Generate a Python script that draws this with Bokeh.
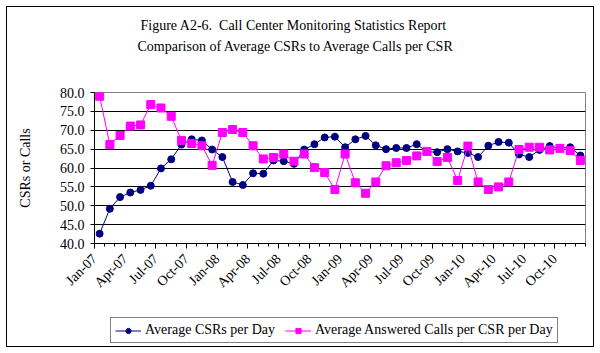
import math
from bokeh.plotting import figure
from bokeh.layouts import column
from bokeh.models import (Range1d, FixedTicker, Legend, LegendItem, Title,
                          PrintfTickFormatter)
from bokeh.embed import file_html
from bokeh.resources import INLINE

# ---- data ----
month_names = ["Jan", "Feb", "Mar", "Apr", "May", "Jun",
               "Jul", "Aug", "Sep", "Oct", "Nov", "Dec"]
years = ["07", "08", "09", "10"]
months = [f"{m}-{y}" for y in years for m in month_names]

csrs_per_day = [42.6, 49.2, 52.3, 53.5, 54.2, 55.3, 59.9, 62.3, 66.2, 67.6, 67.3, 64.9,
                62.9, 56.3, 55.5, 58.6, 58.5, 62.0, 61.8, 61.1, 64.9, 66.3, 68.1, 68.3,
                65.5, 67.6, 68.5, 66.0, 65.0, 65.3, 65.3, 66.3, 64.3, 64.2, 65.0, 64.4,
                64.0, 62.9, 65.9, 66.9, 66.7, 63.6, 62.9, 64.8, 65.8, 65.2, 65.5, 63.3]

calls_per_csr = [79.0, 66.2, 68.6, 71.1, 71.4, 76.8, 75.9, 73.7, 67.3, 66.5, 65.9, 60.7,
                 69.4, 70.2, 69.4, 65.9, 62.4, 62.8, 63.7, 61.8, 63.7, 60.1, 58.8, 54.3,
                 63.7, 56.1, 53.3, 56.3, 60.6, 61.4, 62.0, 63.2, 64.4, 61.7, 62.8, 56.7,
                 65.8, 56.3, 54.3, 55.0, 56.3, 64.9, 65.5, 65.5, 64.8, 65.2, 64.6, 62.0]

tick_labels = months[::3]
y_ticks = [40, 45, 50, 55, 60, 65, 70, 75, 80]

title_lines = ["Figure A2-6.\u00a0 Call Center Monitoring Statistics Report",
               "Comparison of Average CSRs to Average Calls per CSR"]
series_names = ["Average CSRs per Day", "Average Answered Calls per CSR per Day"]

FONT = "Liberation Serif"
NAVY = "#000080"
MAGENTA = "#FF00FF"

x = list(range(len(months)))
n = len(months)

# ---------------- main chart ----------------
p = figure(width=586, height=305, output_backend="svg", toolbar_location=None,
           x_range=Range1d(-0.5, n - 0.5), y_range=Range1d(40, 80),
           min_border_left=87, min_border_right=8, min_border_top=85,
           min_border_bottom=69)
p.background_fill_color = "white"
p.border_fill_color = "white"
p.outline_line_color = "#808080"
p.outline_line_width = 1

# y axis
p.yaxis.ticker = FixedTicker(ticks=y_ticks)
p.yaxis.formatter = PrintfTickFormatter(format="%.1f")
p.yaxis.major_tick_out = 4
p.yaxis.major_tick_in = 0
p.yaxis.minor_tick_out = 0
p.yaxis.minor_tick_in = 0
p.yaxis.axis_line_color = "black"
p.yaxis.major_tick_line_color = "black"
p.yaxis.major_label_text_font = FONT
p.yaxis.major_label_text_font_size = "14px"
p.yaxis.major_label_text_color = "black"
p.yaxis.major_label_standoff = 6
p.yaxis.axis_label = "CSRs or Calls"
p.yaxis.axis_label_text_font = FONT
p.yaxis.axis_label_text_font_size = "14px"
p.yaxis.axis_label_text_font_style = "normal"
p.yaxis.axis_label_text_color = "black"
p.yaxis.axis_label_standoff = 24

# x axis: ticks at category boundaries, labels every 3 months
major = [i - 0.5 for i in range(0, n, 3)]
minor = [i - 0.5 for i in range(0, n + 1)]
p.xaxis.ticker = FixedTicker(ticks=major, minor_ticks=minor)
p.xaxis.major_label_overrides = {i - 0.5: lab for i, lab in zip(range(0, n, 3), tick_labels)}
p.xaxis.major_label_orientation = math.pi / 4
p.xaxis.major_tick_out = 5
p.xaxis.major_tick_in = 0
p.xaxis.minor_tick_out = 3
p.xaxis.minor_tick_in = 0
p.xaxis.axis_line_color = "black"
p.xaxis.major_tick_line_color = "black"
p.xaxis.minor_tick_line_color = "black"
p.xaxis.major_label_text_font = FONT
p.xaxis.major_label_text_font_size = "14px"
p.xaxis.major_label_text_color = "black"
p.xaxis.major_label_standoff = 8

# grid
p.xgrid.visible = False
p.ygrid.ticker = FixedTicker(ticks=y_ticks[1:-1])
p.ygrid.grid_line_color = "black"
p.ygrid.grid_line_alpha = 1.0

# series
p.line(x, csrs_per_day, line_color=NAVY, line_width=1)
p.scatter(x, csrs_per_day, marker="circle", size=7, fill_color=NAVY, line_color=NAVY)
p.line(x, calls_per_csr, line_color=MAGENTA, line_width=1)
p.scatter(x, calls_per_csr, marker="square", size=8, fill_color=MAGENTA, line_color=MAGENTA)

# titles: first added sits closest to the plot (spacer, line 2, line 1)
p.add_layout(Title(text=" ", standoff=21, text_font=FONT, text_font_size="14px"), "above")
p.add_layout(Title(text=title_lines[1], align="left", offset=43, standoff=2,
                   text_font=FONT, text_font_size="14px", text_font_style="normal",
                   text_color="black"), "above")
p.add_layout(Title(text=title_lines[0], align="left", offset=46, standoff=6,
                   text_font=FONT, text_font_size="14px", text_font_style="normal",
                   text_color="black"), "above")

# ---------------- legend strip ----------------
q = figure(width=586, height=34, output_backend="svg", toolbar_location=None,
           x_range=Range1d(0, 1), y_range=Range1d(0, 1),
           x_axis_location=None, y_axis_location=None,
           min_border_left=0, min_border_right=0, min_border_top=0, min_border_bottom=0)
q.outline_line_color = None
q.background_fill_color = "white"
q.border_fill_color = "white"
q.grid.visible = False
# same series, kept outside this strip's visible range: they only feed the legend
l1 = q.line(x, csrs_per_day, line_color=NAVY, line_width=1)
s1 = q.scatter(x, csrs_per_day, marker="circle", size=7, fill_color=NAVY, line_color=NAVY)
l2 = q.line(x, calls_per_csr, line_color=MAGENTA, line_width=1)
s2 = q.scatter(x, calls_per_csr, marker="square", size=8, fill_color=MAGENTA, line_color=MAGENTA)

legend = Legend(items=[LegendItem(label=series_names[0], renderers=[l1, s1]),
                       LegendItem(label=series_names[1], renderers=[l2, s2])],
                location=(16, 3), orientation="horizontal")
legend.label_text_font = FONT
legend.label_text_font_size = "14px"
legend.label_text_color = "black"
legend.border_line_color = "black"
legend.border_line_width = 1
legend.background_fill_color = "white"
legend.background_fill_alpha = 1
legend.padding = 4
legend.spacing = 10
legend.margin = 0
legend.glyph_width = 26
legend.glyph_height = 13
legend.label_height = 13
legend.label_standoff = 4
q.add_layout(legend, "center")

layout = column(p, q, spacing=0,
                styles={"border": "1px solid black", "margin": "6px",
                        "box-sizing": "content-box"})

open("out.html", "w").write(file_html(layout, INLINE))
